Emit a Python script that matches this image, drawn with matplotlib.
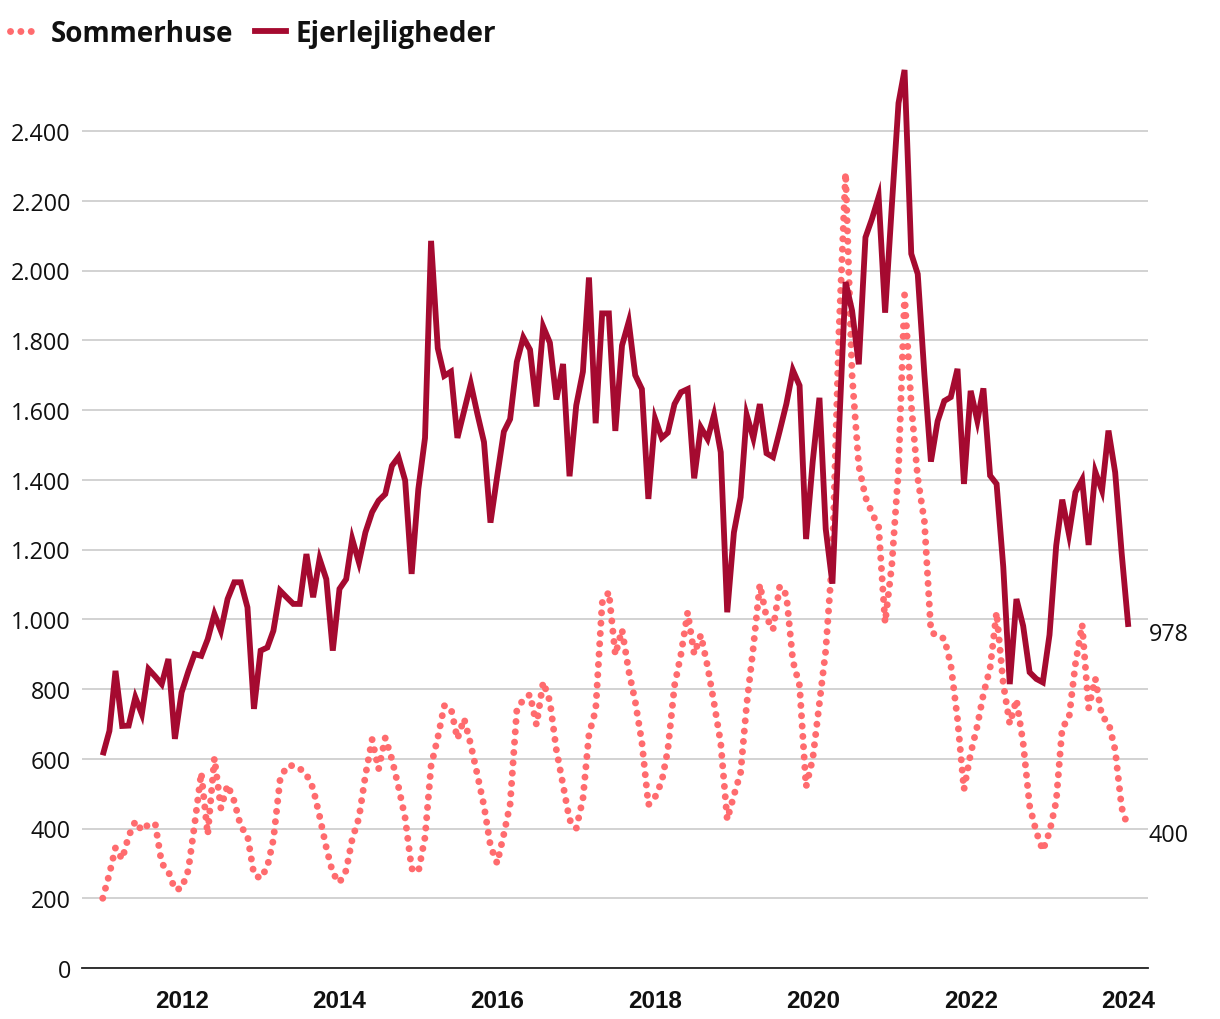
import matplotlib
matplotlib.use("Agg")
import matplotlib.pyplot as plt
from matplotlib.ticker import FuncFormatter
from matplotlib.lines import Line2D
import pandas as pd

# ---------------- data (monthly, Jan 2011 .. Jan 2024) ----------------
start_month = "2011-01-01"

sommerhuse = [
    # 2011
    200, 270, 345, 312, 378, 421, 394, 412, 414, 300, 277, 225,
    # 2012
    228, 280, 410, 560, 382, 602, 458, 525, 478, 406, 380, 268,
    # 2013
    257, 290, 368, 540, 578, 581, 572, 555, 515, 435, 345, 272,
    # 2014
    245, 280, 370, 430, 552, 655, 570, 660, 598, 520, 430, 285,
    # 2015
    275, 375, 580, 660, 752, 745, 657, 715, 640, 555, 465, 350,
    # 2016
    300, 384, 470, 740, 770, 784, 697, 820, 765, 626, 525, 425,
    # 2017
    400, 485, 670, 740, 1047, 1078, 898, 970, 852, 765, 647, 468,
    # 2018
    490, 535, 625, 810, 900, 1020, 900, 955, 865, 760, 645, 425,
    # 2019
    495, 560, 755, 920, 1100, 1005, 970, 1095, 1070, 880, 810, 520,
    # 2020
    600, 760, 910, 1180, 1820, 2280, 1700, 1440, 1350, 1305, 1265, 990,
    # 2021
    1155, 1430, 1930, 1615, 1405, 1280, 965, 950, 945, 870, 715, 512,
    # 2022
    615, 695, 785, 860, 1020, 815, 700, 770, 645, 465, 390, 337,
    # 2023
    390, 478, 690, 715, 872, 985, 745, 830, 720, 705, 625, 460,
    # 2024
    400,
]

ejerlejligheder = [
    # 2011
    610, 680, 852, 694, 695, 776, 728, 857, 836, 814, 886, 657,
    # 2012
    790, 850, 900, 895, 943, 1015, 967, 1058, 1106, 1106, 1034, 743,
    # 2013
    910, 919, 967, 1082, 1063, 1044, 1044, 1187, 1063, 1173, 1115, 910,
    # 2014
    1087, 1115, 1230, 1163, 1249, 1307, 1340, 1359, 1440, 1465, 1398, 1130,
    # 2015
    1373, 1520, 2085, 1777, 1698, 1710, 1520, 1597, 1675, 1590, 1508, 1277,
    # 2016
    1410, 1538, 1574, 1738, 1808, 1773, 1610, 1839, 1793, 1630, 1732, 1410,
    # 2017
    1613, 1710, 1980, 1562, 1877, 1877, 1540, 1785, 1853, 1700, 1660, 1345,
    # 2018
    1575, 1520, 1535, 1617, 1651, 1660, 1404, 1550, 1517, 1586, 1479, 1020,
    # 2019
    1249, 1350, 1586, 1519, 1617, 1476, 1465, 1540, 1618, 1714, 1670, 1230,
    # 2020
    1453, 1635, 1259, 1102, 1535, 1967, 1885, 1731, 2095, 2148, 2211, 1879,
    # 2021
    2185, 2480, 2575, 2048, 1990, 1700, 1452, 1568, 1626, 1637, 1718, 1388,
    # 2022
    1655, 1569, 1662, 1412, 1388, 1150, 814, 1058, 981, 848, 829, 819,
    # 2023
    955, 1211, 1343, 1244, 1364, 1400, 1213, 1423, 1369, 1541, 1421, 1190,
    # 2024
    978,
]

series_names = ["Sommerhuse", "Ejerlejligheder"]
y_ticks = [0, 200, 400, 600, 800, 1000, 1200, 1400, 1600, 1800, 2000, 2200, 2400]
x_tick_years = [2012, 2014, 2016, 2018, 2020, 2022, 2024]

# ---------------- style ----------------
C_SOMMER = "#ff6b6e"
C_EJER = "#a50a30"
GRID = "#c6c6c6"
TXT = "#111111"
DOT_LW = 5.0
DOT_STYLE = (0, (0.01, 1.48))
LINE_LW = 4.2

W, H, DPI = 1220, 1020, 100
fig = plt.figure(figsize=(W / DPI, H / DPI), dpi=DPI)

ax_left, ax_right = 82, 1148
ax_bottom = 969
ymax = 2600
px_per_unit = 0.34875
ax_top = ax_bottom - ymax * px_per_unit
ax = fig.add_axes([ax_left / W, 1 - ax_bottom / H,
                   (ax_right - ax_left) / W, (ax_bottom - ax_top) / H])

dates = pd.date_range(start_month, periods=len(sommerhuse), freq="MS")

ax.plot(dates, sommerhuse, color=C_SOMMER, lw=DOT_LW,
        linestyle=DOT_STYLE, dash_capstyle="round", zorder=3,
        label=series_names[0])
ax.plot(dates, ejerlejligheder, color=C_EJER, lw=LINE_LW,
        solid_joinstyle="miter", solid_capstyle="butt", zorder=4,
        label=series_names[1])

ax.set_xlim(pd.Timestamp("2010-09-27"), pd.Timestamp("2024-04-01"))
ax.set_ylim(0, ymax)

ax.set_yticks(y_ticks)
ax.yaxis.grid(True, color=GRID, lw=1.1)
ax.set_axisbelow(True)
for s in ["left", "right", "top"]:
    ax.spines[s].set_visible(False)
ax.spines["bottom"].set_color("#222222")
ax.spines["bottom"].set_linewidth(1.3)
ax.spines["bottom"].set_zorder(5)

ax.yaxis.set_major_formatter(FuncFormatter(lambda v, p: f"{int(v):,}".replace(",", ".")))
ax.tick_params(axis="y", length=0, pad=8, labelsize=16.8, labelcolor=TXT)
for lab in ax.get_yticklabels():
    lab.set_fontfamily("Open Sans")

ax.set_xticks([pd.Timestamp(f"{y}-01-01") for y in x_tick_years])
ax.set_xticklabels([str(y) for y in x_tick_years])
ax.tick_params(axis="x", length=0, pad=15, labelsize=17.5, labelcolor=TXT)
for lab in ax.get_xticklabels():
    lab.set_fontfamily("Liberation Sans")
    lab.set_fontweight("bold")

for vals in (ejerlejligheder, sommerhuse):
    ax.annotate(f"{vals[-1]:,}".replace(",", "."), (dates[-1], vals[-1]),
                xytext=(14.5, -5), textcoords="offset points", ha="left", va="center",
                fontsize=16.8, family="Open Sans", color=TXT, annotation_clip=False)

handles = [
    Line2D([0], [0], color=C_SOMMER, lw=DOT_LW, linestyle=DOT_STYLE,
           dash_capstyle="round"),
    Line2D([0], [0], color=C_EJER, lw=LINE_LW),
]
leg = fig.legend(handles, series_names, loc="upper left",
                 bbox_to_anchor=(10 / W, 1 - 20 / H), ncol=2, frameon=False,
                 prop={"family": "Open Sans", "weight": "bold", "size": 20},
                 handlelength=1.1, handletextpad=0.35, columnspacing=0.8,
                 borderpad=0, borderaxespad=0)
for t in leg.get_texts():
    t.set_color(TXT)

fig.savefig("out.png", dpi=DPI)
